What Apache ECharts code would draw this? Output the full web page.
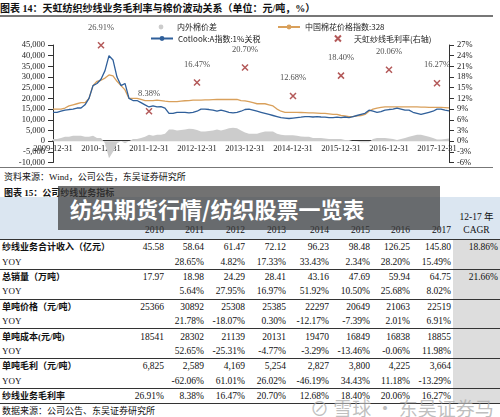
<!DOCTYPE html>
<html><head><meta charset="utf-8">
<script src="https://cdn.jsdelivr.net/npm/echarts@6/dist/echarts.min.js"></script>
<style>
body{margin:0;width:500px;height:417px;background:#fff;overflow:hidden;position:relative;font-family:"Liberation Serif","Noto Sans CJK SC",serif;color:#111}
.abs{position:absolute}
#t1{left:4px;top:1px;font-size:10px;font-weight:bold}
.hl{position:absolute;left:0;width:493px;height:2px;background:#777}
#chart{position:absolute;left:0;top:17px;width:500px;height:150px}
table{position:absolute;left:0;top:197px;width:500px;border-collapse:collapse;font-size:9.5px}
td{height:14.4px;padding:0 2px;text-align:right;white-space:nowrap;line-height:14px}
td.l{text-align:left;font-size:9px}
tr.b td{border-top:1px solid #333}
tr.b td.l{font-weight:bold}
td.g{background:#ddd}
tr.h td{background:#dbe6f1;height:40px;vertical-align:bottom;padding-bottom:2px}
#ov{position:absolute;left:58px;top:186px;width:382px;height:44px;background:rgba(60,60,60,0.72);color:#fff;font-family:"Noto Sans CJK SC";font-weight:bold;font-size:22px;line-height:44px;padding-left:12px;box-sizing:border-box}
</style></head><body>
<div id="t1">图表 14：天虹纺织纱线业务毛利率与棉价波动关系（单位：元/吨，%）</div>
<div class="hl" style="top:15px"></div>
<div id="chart"></div>
<div class="hl" style="top:167px;height:1px"></div>
<div class="abs" style="left:4px;top:170px;font-size:9px">资料来源：Wind，公司公告，东吴证券研究所</div>
<div class="abs" style="left:4px;top:186px;font-size:9px;font-weight:bold">图表 15：公司纱线业务指标</div>
<table id="tb"></table>
<div id="ov">纺织期货行情/纺织股票一览表</div>
<div class="abs" style="left:310px;top:394px;font-size:19px;color:rgba(170,170,170,0.75);font-family:'Noto Sans CJK SC'">⊘ 雪球 · 东吴证券马莉</div>
<script>
const months=[];for(let y=2009;y<=2018;y++)for(let m=1;m<=12;m++){if((y===2009&&m<12)||(y===2018&&m>3))continue;months.push(y+'-'+String(m).padStart(2,'0'));}
const cotlookA=[13500,
13500,14000,14500,14800,15000,15500,15500,17000,20000,26000,27000,29000,
33000,40000,38000,30000,26000,27000,20000,19000,19000,18000,17000,16000,
16500,16000,16200,15500,13000,13000,13500,13500,13500,13200,13500,14000,
15000,15000,14800,14500,14000,14500,14000,13500,13200,13500,14000,14800,
15000,14500,14000,13500,13000,12500,12000,11500,11000,10800,10600,10800,
11000,11200,11500,11500,11300,11500,11300,11200,11000,11000,11200,11000,
11300,11000,11500,12000,12500,13000,14500,14000,13500,13800,14500,14800,
15000,15500,15000,14500,14500,13500,13000,12500,13000,13500,14000,15000,
15000,14500,14200];
const cci328=[15000,
15000,15000,15500,16500,17000,17500,18000,18000,20000,26000,28000,28500,
29500,31000,30500,28000,26000,24000,20000,20000,20000,19500,19000,19000,
19000,19200,19000,18700,18500,18500,18500,18700,18900,19000,19200,19200,
19200,19300,19300,19400,19500,19500,19500,19500,19500,19500,19000,18800,
18500,18000,17500,17500,17500,17000,16500,15000,14000,13500,13500,13500,
13500,13400,13300,13200,13200,13100,13000,13000,12800,12500,12500,12000,
11800,11500,11500,11800,12000,12500,14000,15000,15500,15800,16000,16000,
16000,16000,16000,16000,16000,16000,16000,15900,15900,15800,15800,15800,
15800,15700,15600];
const spread=[1000,
1000,1500,2000,2000,2500,2500,2500,2000,2000,2500,1500,1500,
-1000,-8000,-5000,-1000,0,-1000,0,1000,1000,1500,2000,3000,
2500,3000,3000,3500,5500,5500,5000,5200,5500,5800,5700,5200,
4500,4500,4700,5000,5500,5000,5500,6000,6300,6000,5000,4000,
3500,3500,3500,4000,4500,4500,4500,3500,3000,2800,2800,2700,
2500,2200,2000,2000,1500,1500,1500,1200,1000,1000,1000,1000,
500,500,0,-200,-500,-500,-500,1000,1500,1500,1500,1200,
1000,500,1000,1500,2000,2500,3000,3000,2500,2000,1500,800,
800,1000,1200];
const marginMonths=['2010-12','2011-12','2012-12','2013-12','2014-12','2015-12','2016-12','2017-12'];
const marginVals=[26.91,8.38,16.47,20.70,12.68,18.40,20.06,16.27];
const fnt={fontFamily:'Liberation Serif',fontSize:8.5,color:'#222'};
const lt={fontSize:8,fontFamily:'Noto Sans CJK SC',color:'#222'};
const ch=echarts.init(document.getElementById('chart'));
ch.setOption({animation:false,
legend:[{top:1,left:145,itemWidth:22,itemHeight:6,itemGap:60,textStyle:lt,data:['内外棉价差','中国棉花价格指数:328']},
 {top:11,left:145,itemWidth:22,itemHeight:6,itemGap:72,textStyle:lt,data:['Cotlook:A指数:1%关税','天虹纱线毛利率(右轴)']}],
grid:{left:53,right:51,top:28,height:120},
xAxis:{type:'category',data:months,boundaryGap:false,axisTick:{show:false},position:'bottom',offset:-21.8,
 axisLine:{onZero:false,lineStyle:{color:'#333'}},
 axisLabel:{...fnt,margin:4,interval:(i,v)=>v.endsWith('-12'),formatter:v=>v.slice(0,4)+'-12-31'}},
yAxis:[{type:'value',min:-10000,max:45000,interval:5000,splitLine:{show:false},axisLine:{show:true,lineStyle:{color:'#333'}},axisTick:{show:true},
 axisLabel:{...fnt,formatter:v=>v.toLocaleString('en-US')}},
 {type:'value',min:-6,max:27,interval:3,splitLine:{show:false},axisLine:{show:true,lineStyle:{color:'#333'}},axisTick:{show:true},
 axisLabel:{...fnt,formatter:v=>v+'%'}}],
series:[
{name:'内外棉价差',type:'line',data:spread,symbol:'none',lineStyle:{width:0},areaStyle:{color:'#ccc',opacity:1},itemStyle:{color:'#ccc'},z:1},
{name:'中国棉花价格指数:328',type:'line',data:cci328,symbol:'none',lineStyle:{width:1.3,color:'#d9a05b'},itemStyle:{color:'#d9a05b'}},
{name:'Cotlook:A指数:1%关税',type:'line',data:cotlookA,symbol:'none',lineStyle:{width:1.3,color:'#2f5f9a'},itemStyle:{color:'#2f5f9a'}},
{name:'天虹纱线毛利率(右轴)',type:'scatter',yAxisIndex:1,data:marginMonths.map((m,i)=>[m,marginVals[i]]),
 symbol:'path://M0,0L10,10M10,0L0,10',symbolSize:6,itemStyle:{color:'none',borderColor:'#a03030',borderWidth:1.5},
 label:{show:true,position:'top',distance:8,formatter:p=>p.value[1].toFixed(2)+'%',fontSize:8.5,fontFamily:'Liberation Serif',color:'#222'}}
]});
const years=['2010','2011','2012','2013','2014','2015','2016','2017'];
const rows=[
['纱线业务合计收入（亿元）',['45.58','58.64','61.47','72.12','96.23','98.48','126.25','145.80'],'18.86%',1],
['YOY',['','28.65%','4.82%','17.33%','33.43%','2.34%','28.20%','15.49%'],'',0],
['总销量（万吨）',['17.97','18.98','24.29','28.41','43.16','47.69','59.94','64.75'],'21.66%',1],
['YOY',['','5.64%','27.95%','16.97%','51.92%','10.50%','25.68%','8.02%'],'',0],
['单吨价格（元/吨）',['25366','30892','25308','25385','22297','20649','21063','22519'],'',1],
['YOY',['','21.78%','-18.07%','0.30%','-12.17%','-7.39%','2.01%','6.91%'],'',0],
['单吨成本(元/吨)',['18541','28302','21139','20131','19470','16849','16838','18855'],'',1],
['YOY',['','52.65%','-25.31%','-4.77%','-3.29%','-13.46%','-0.06%','11.98%'],'',0],
['单吨毛利（元/吨）',['6,825','2,589','4,169','5,254','2,827','3,800','4,225','3,664'],'',1],
['YOY',['','-62.06%','61.01%','26.02%','-46.19%','34.43%','11.18%','-13.29%'],'',0],
['纱线业务毛利率',['26.91%','8.38%','16.47%','20.70%','12.68%','18.40%','20.06%','16.27%'],'',1]];
let h='<colgroup><col style="width:128px"><col style="width:38px"><col style="width:40px"><col style="width:41px"><col style="width:41px"><col style="width:43px"><col style="width:41px"><col style="width:40px"><col style="width:41px"><col style="width:47px"></colgroup>';
h+='<tr class="h"><td></td>'+years.map(y=>'<td>'+y+'</td>').join('')+'<td style="text-align:center;line-height:13px">12-17 年<br>CAGR</td></tr>';
rows.forEach(r=>{h+='<tr class="'+(r[3]?'b':'')+'"><td class="l">'+r[0]+'</td>'+r[1].map(v=>'<td>'+v+'</td>').join('')+'<td class="g">'+r[2]+'</td></tr>';});
h+='<tr class="b"><td class="l" colspan="10" style="font-weight:normal">数据来源：公司公告、东吴证券研究所</td></tr>';
document.getElementById('tb').innerHTML=h;
</script></body></html>
